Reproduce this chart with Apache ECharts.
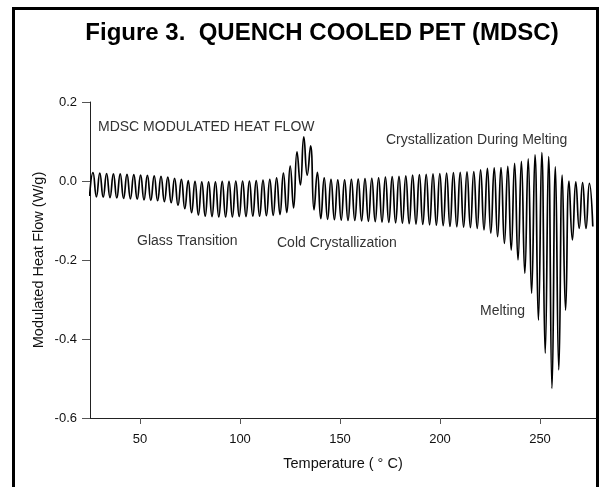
<!DOCTYPE html>
<html>
<head>
<meta charset="utf-8">
<script src="https://cdn.jsdelivr.net/npm/echarts@6/dist/echarts.min.js"></script>
<style>
  html, body { margin: 0; padding: 0; background: #fff; }
  #chart { width: 611px; height: 487px; }
</style>
</head>
<body>
<div id="chart"></div>
<script>
// one modulation cycle per entry: trough half a cycle before each peak
const firstPeakTemp = 26.5
const cycleWidth = 3.4

// peak of each cycle (W/g)
const peakHeatFlow = [
  0.021, 0.020, 0.019, 0.018, 0.018, 0.017, 0.016, 0.015, 0.014, 0.013,
  0.012, 0.010, 0.007, 0.004, 0.001, -0.001, -0.002, -0.002, -0.002, -0.001,
  -0.001, 0.000, 0.000, 0.000, 0.001, 0.002, 0.004, 0.008, 0.020, 0.038,
  0.074, 0.112, 0.089, 0.022, 0.008, 0.004, 0.003, 0.003, 0.004, 0.005,
  0.006, 0.007, 0.008, 0.010, 0.011, 0.012, 0.013, 0.015, 0.016, 0.017,
  0.018, 0.019, 0.020, 0.021, 0.022, 0.023, 0.024, 0.028, 0.032, 0.033,
  0.034, 0.037, 0.045, 0.050, 0.056, 0.066, 0.072, 0.062, 0.036, 0.015,
  0.000, -0.002, -0.004, -0.006
]

// trough before each peak, plus the closing one (W/g)
const troughHeatFlow = [
  -0.038, -0.040, -0.041, -0.042, -0.043, -0.044, -0.045, -0.046, -0.048, -0.049,
  -0.050, -0.052, -0.055, -0.062, -0.070, -0.080, -0.086, -0.089, -0.090, -0.091,
  -0.091, -0.091, -0.090, -0.090, -0.089, -0.089, -0.088, -0.087, -0.085, -0.080,
  -0.068, -0.010, 0.015, -0.073, -0.095, -0.097, -0.098, -0.099, -0.100, -0.100,
  -0.101, -0.102, -0.103, -0.104, -0.105, -0.106, -0.107, -0.108, -0.109, -0.110,
  -0.111, -0.112, -0.113, -0.115, -0.116, -0.117, -0.118, -0.120, -0.124, -0.132,
  -0.141, -0.158, -0.175, -0.200, -0.234, -0.284, -0.352, -0.436, -0.525, -0.478,
  -0.327, -0.149, -0.120, -0.120, -0.115
]

const tempTicks = [50, 100, 150, 200, 250]
const flowTicks = [-0.6, -0.4, -0.2, 0, 0.2]

// weave troughs and peaks into the trace
const trace = []
peakHeatFlow.forEach(function (p, k) {
  const t = firstPeakTemp + k * cycleWidth
  trace.push([t - cycleWidth / 2, troughHeatFlow[k]])
  trace.push([t, p])
})
const lastK = peakHeatFlow.length
trace.push([firstPeakTemp + lastK * cycleWidth - cycleWidth / 2, troughHeatFlow[lastK]])

const fontFamily = 'Arial, "Liberation Sans", sans-serif'

function note(text, x, y) {
  return {
    type: 'text', x: x, y: y, silent: true,
    style: { text: text, fontFamily: fontFamily, fontSize: 14, fill: '#333', align: 'left', verticalAlign: 'middle' }
  }
}

var chartDom = document.getElementById('chart')
var myChart = echarts.init(chartDom, null, { renderer: 'canvas' })

var option = {
  animation: false,
  backgroundColor: '#fff',
  grid: { left: 90, right: 15, top: 102, bottom: 69, outerBoundsMode: 'none' },
  xAxis: {
    type: 'value',
    min: 25,
    max: 278,
    name: 'Temperature ( ° C)',
    nameLocation: 'middle',
    nameGap: 38,
    nameMoveOverlap: false,
    nameTextStyle: { fontFamily: fontFamily, fontSize: 14.5, color: '#111' },
    axisLine: { onZero: false, lineStyle: { color: '#222', width: 1 } },
    axisTick: { length: 6, customValues: tempTicks, lineStyle: { color: '#555' } },
    axisLabel: { customValues: tempTicks, margin: 15, fontFamily: fontFamily, fontSize: 13, color: '#111' },
    splitLine: { show: false }
  },
  yAxis: {
    type: 'value',
    min: -0.6,
    max: 0.2,
    interval: 0.2,
    name: 'Modulated Heat Flow (W/g)',
    nameLocation: 'middle',
    nameRotate: 90,
    nameGap: 44,
    nameMoveOverlap: false,
    nameTextStyle: { fontFamily: fontFamily, fontSize: 14.5, color: '#111' },
    axisLine: { show: true, onZero: false, lineStyle: { color: '#222', width: 1 } },
    axisTick: { show: true, length: 8, customValues: flowTicks, lineStyle: { color: '#555' } },
    axisLabel: {
      customValues: flowTicks,
      margin: 13,
      fontFamily: fontFamily, fontSize: 13, color: '#111',
      formatter: function (v) { return Math.abs(v) < 1e-9 ? '0.0' : v.toFixed(1) }
    },
    splitLine: { show: false }
  },
  series: [
    {
      type: 'line',
      data: trace,
      smooth: true,
      showSymbol: false,
      sampling: null,
      lineStyle: { color: '#000', width: 1.7 }
    }
  ],
  graphic: [
    {
      type: 'rect', silent: true,
      shape: { x: 13.5, y: 8.5, width: 584, height: 520 },
      style: { fill: null, stroke: '#000', lineWidth: 3 }
    },
    {
      type: 'text', x: 322, y: 33, silent: true,
      style: {
        text: 'Figure 3.  QUENCH COOLED PET (MDSC)',
        fontFamily: fontFamily, fontSize: 24, fontWeight: 'bold',
        fill: '#000', align: 'center', verticalAlign: 'middle'
      }
    },
    note('MDSC MODULATED HEAT FLOW', 98, 127),
    note('Crystallization During Melting', 386, 140),
    note('Glass Transition', 137, 241),
    note('Cold Crystallization', 277, 243),
    note('Melting', 480, 311)
  ]
}

option && myChart.setOption(option)
</script>
</body>
</html>
